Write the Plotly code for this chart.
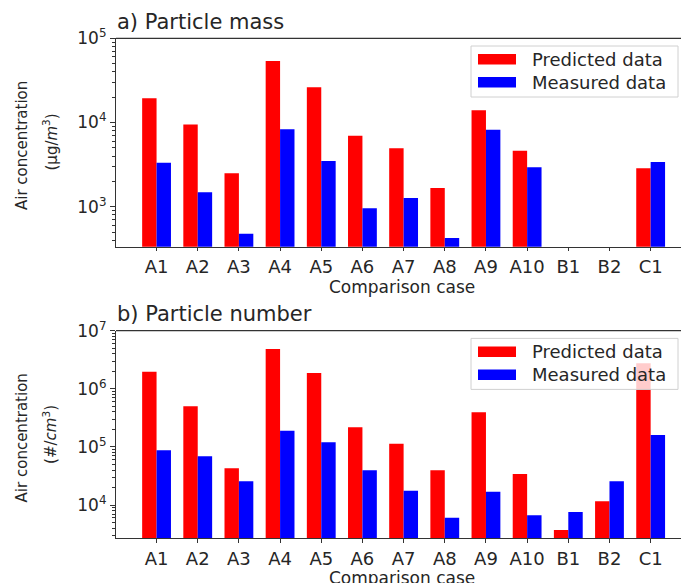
import plotly.graph_objects as go

cases = ["A1", "A2", "A3", "A4", "A5", "A6", "A7", "A8", "A9", "A10", "B1", "B2", "C1"]
mass_pred = [19400, 9500, 2490, 53700, 26200, 6970, 4940, 1670, 13960, 4620, None, None, 2860]
mass_meas = [3330, 1480, 478, 8300, 3490, 957, 1270, 425, 8200, 2940, None, None, 3400]
num_pred = [1.97e6, 5.0e5, 4.28e4, 4.84e6, 1.87e6, 2.17e5, 1.13e5, 3.96e4, 3.94e5, 3.42e4, 3710, 11600, 2.75e6]
num_meas = [87400, 68900, 25600, 1.9e5, 1.2e5, 39600, 17600, 6040, 16900, 6650, 7580, 25600, 1.6e5]

W, H = 681, 583
TXT = "#262626"
FONT = "DejaVu Sans"


def px(x):
    return x / W


def py(y):
    return 1 - y / H


fig = go.Figure()
for pred, meas, xa, ya in [(mass_pred, mass_meas, "x", "y"), (num_pred, num_meas, "x2", "y2")]:
    fig.add_trace(go.Bar(x=cases, y=pred, name="Predicted data", marker=dict(color="#ff0000", line=dict(width=0)),
                         xaxis=xa, yaxis=ya, showlegend=False))
    fig.add_trace(go.Bar(x=cases, y=meas, name="Measured data", marker=dict(color="#0000ff", line=dict(width=0)),
                         xaxis=xa, yaxis=ya, showlegend=False))

minor_vals = [m * 10 ** e for e in range(2, 8) for m in range(2, 10)]

xcommon = dict(type="category", categoryorder="array", categoryarray=cases, range=[-0.985, 12.737],
               domain=[px(116), 1], showline=True, linecolor="#333", linewidth=1.2, ticks="outside",
               ticklen=3.5, tickcolor="#333", tickfont=dict(family=FONT, size=18, color=TXT), showgrid=False,
               zeroline=False, automargin=False, fixedrange=True)
ycommon = dict(type="log", showline=True, linecolor="#333", linewidth=1.2, ticks="outside", ticklen=5,
               tickcolor="#333", tickfont=dict(family=FONT, size=17, color=TXT), showgrid=False,
               zeroline=False, automargin=False, fixedrange=True,
               minor=dict(ticks="outside", ticklen=2.5, tickcolor="#333", tickvals=minor_vals, showgrid=False))

fig.update_layout(
    width=W, height=H, margin=dict(l=0, r=0, t=0, b=0), paper_bgcolor="white", plot_bgcolor="white",
    barmode="group", bargap=0.3, bargroupgap=0,
    xaxis=dict(xcommon, anchor="y"),
    yaxis=dict(ycommon, anchor="x", domain=[py(246.7), py(38.3)], range=[2.525, 5],
               tickvals=[1e3, 1e4, 1e5], ticktext=["10<sup>3</sup>", "10<sup>4</sup>", "10<sup>5</sup>"]),
    xaxis2=dict(xcommon, anchor="y2"),
    yaxis2=dict(ycommon, anchor="x2", domain=[py(538.3), py(330.7)], range=[3.427, 7],
                tickvals=[1e4, 1e5, 1e6, 1e7],
                ticktext=["10<sup>4</sup>", "10<sup>5</sup>", "10<sup>6</sup>", "10<sup>7</sup>"]),
    showlegend=False,
)

shapes = []
ann = []
for dy, title, unit, top, xt_y in [(0, "a) Particle mass", "(μg/<i>m</i><sup>3</sup>)", 38.3, 287),
                                   (292.4, "b) Particle number", "(#/<i>cm</i><sup>3</sup>)", 330.7, 578)]:
    # top spine
    shapes.append(dict(type="line", xref="paper", yref="paper", x0=px(116), x1=1, y0=py(top), y1=py(top),
                       line=dict(color="#333", width=1.2), layer="above"))
    # legend box
    shapes.append(dict(type="rect", xref="paper", yref="paper", x0=px(471), x1=px(678), y0=py(46 + dy),
                       y1=py(97 + dy), fillcolor="rgba(255,255,255,0.8)", line=dict(color="#d0d0d0", width=1),
                       layer="above"))
    shapes.append(dict(type="rect", xref="paper", yref="paper", x0=px(478), x1=px(516), y0=py(54 + dy),
                       y1=py(64.5 + dy), fillcolor="#ff0000", line=dict(width=0), layer="above"))
    shapes.append(dict(type="rect", xref="paper", yref="paper", x0=px(478), x1=px(516), y0=py(77 + dy),
                       y1=py(87.5 + dy), fillcolor="#0000ff", line=dict(width=0), layer="above"))
    ann.append(dict(text="Predicted data", x=px(530), y=py(59.5 + dy), xref="paper", yref="paper",
                    xanchor="left", yanchor="middle", showarrow=False,
                    font=dict(family=FONT, size=18, color=TXT)))
    ann.append(dict(text="Measured data", x=px(530), y=py(82.5 + dy), xref="paper", yref="paper",
                    xanchor="left", yanchor="middle", showarrow=False,
                    font=dict(family=FONT, size=18, color=TXT)))
    # panel title
    ann.append(dict(text=title, x=px(115), y=py(22 + dy), xref="paper", yref="paper", xanchor="left",
                    yanchor="middle", showarrow=False, font=dict(family=FONT, size=21, color=TXT)))
    # x title
    ann.append(dict(text="Comparison case", x=px(402), y=py(xt_y), xref="paper", yref="paper",
                    xanchor="center", yanchor="middle", showarrow=False,
                    font=dict(family=FONT, size=17, color=TXT)))
    # y title lines
    ann.append(dict(text="Air concentration", x=px(22), y=py(146 + dy), xref="paper", yref="paper",
                    xanchor="center", yanchor="middle", textangle=-90, showarrow=False,
                    font=dict(family=FONT, size=15, color=TXT)))
    ann.append(dict(text=unit, x=px(50), y=py(142.5 + dy), xref="paper", yref="paper",
                    xanchor="center", yanchor="middle", textangle=-90, showarrow=False,
                    font=dict(family=FONT, size=15, color=TXT)))

fig.update_layout(shapes=shapes, annotations=ann)
fig.write_html("out.html", config={"displayModeBar": False},
               post_script="document.body.style.margin='0';document.body.style.padding='0';")
